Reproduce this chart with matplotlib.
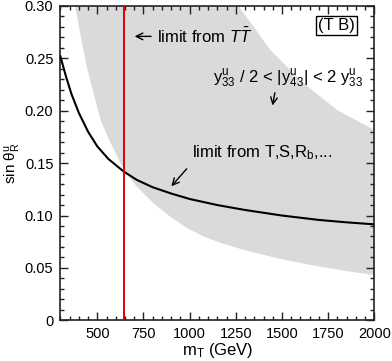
import matplotlib
matplotlib.use('Agg')
import matplotlib.pyplot as plt
from matplotlib.ticker import MultipleLocator, FixedLocator

plt.rcParams['font.family'] = ['Liberation Sans', 'DejaVu Sans']
plt.rcParams['mathtext.fontset'] = 'custom'
plt.rcParams['mathtext.rm'] = 'Liberation Sans'
plt.rcParams['mathtext.it'] = 'Liberation Sans:italic'
plt.rcParams['font.size'] = 12

# limit from T,S,Rb,... (black curve)
m_limit = [300, 330, 360, 400, 450, 500, 560, 643, 714, 800, 900, 1000,
           1150, 1300, 1500, 1700, 1850, 2000]
s_limit = [0.252, 0.233, 0.216, 0.198, 0.180, 0.166, 0.154, 0.142, 0.134,
           0.127, 0.121, 0.1158, 0.1100, 0.1053, 0.1000, 0.0958, 0.0935, 0.0916]

# shaded band y33/2 < |y43| < 2 y33
m_low = [380, 407, 443, 479, 520, 570, 643, 714, 804, 895, 985, 1075, 1166,
         1300, 1480, 1660, 1840, 2000]
s_low = [0.300, 0.274, 0.242, 0.217, 0.190, 0.170, 0.1435, 0.1275, 0.1117,
         0.0989, 0.0882, 0.0800, 0.0740, 0.0668, 0.0590, 0.0527, 0.0472, 0.0432]
m_up = [380, 1265, 1347, 1437, 1618, 1799, 2000]
s_up = [0.300, 0.300, 0.280, 0.258, 0.226, 0.2007, 0.1816]

m_tt = 643  # limit from T Tbar

fig = plt.figure(figsize=(3.92, 3.61), dpi=100)
ax = fig.add_axes([0.154, 0.1127, 0.801, 0.8707])

band_x = m_low + m_up[::-1]
band_y = s_low + s_up[::-1]
ax.fill(band_x, band_y, color='#dadada', lw=0, zorder=1)

ax.plot(m_limit, s_limit, color='black', lw=1.5, zorder=3)
ax.axvline(m_tt, color='#e00000', lw=1.4, zorder=4)

ax.set_xlim(300, 2000)
ax.set_ylim(0, 0.30)
ax.xaxis.set_major_locator(FixedLocator([500, 750, 1000, 1250, 1500, 1750, 2000]))
ax.xaxis.set_minor_locator(MultipleLocator(50))
ax.set_yticks([0, 0.05, 0.10, 0.15, 0.20, 0.25, 0.30])
ax.set_yticklabels(['0', '0.05', '0.10', '0.15', '0.20', '0.25', '0.30'])
ax.yaxis.set_minor_locator(MultipleLocator(0.01))
ax.tick_params(which='both', direction='in', top=True, right=True, width=1,
               labelsize=10.5, colors='#222222', labelcolor='black')
ax.tick_params(which='major', length=6, pad=5)
ax.tick_params(which='minor', length=3)
for sp in ax.spines.values():
    sp.set_linewidth(1.2)
    sp.set_color('#222222')

ax.set_xlabel(r'm$_\mathregular{T}$ (GeV)', fontsize=12, labelpad=0)
ax.set_ylabel(r'sin $\mathregular{\theta^u_R}$', fontsize=11)
ax.yaxis.set_label_coords(-0.118, 0.5)

# annotations
ax.annotate('', xy=(687, 0.271), xytext=(806, 0.271),
            arrowprops=dict(arrowstyle='->', lw=1, color='black'))
ax.text(824, 0.271, r'limit from $T\bar{T}$', ha='left', va='center')

ax.text(1794, 0.281, '(T B)', ha='center', va='center',
        bbox=dict(boxstyle='square,pad=0.12', fc='white', ec='black', lw=1))

ax.text(1535, 0.231, r'$\mathregular{y^u_{33}}$ / 2 < |$\mathregular{y^u_{43}}$| < 2 $\mathregular{y^u_{33}}$',
        ha='center', va='center')
ax.annotate('', xy=(1446, 0.2024), xytext=(1464, 0.2198),
            arrowprops=dict(arrowstyle='->', lw=1, color='black'))

ax.text(1014, 0.160, r'limit from T,S,R$_\mathregular{b}$,...', ha='left', va='center')
ax.annotate('', xy=(891, 0.126), xytext=(994, 0.1466),
            arrowprops=dict(arrowstyle='->', lw=1, color='black'))

fig.savefig('out.png', dpi=100)
